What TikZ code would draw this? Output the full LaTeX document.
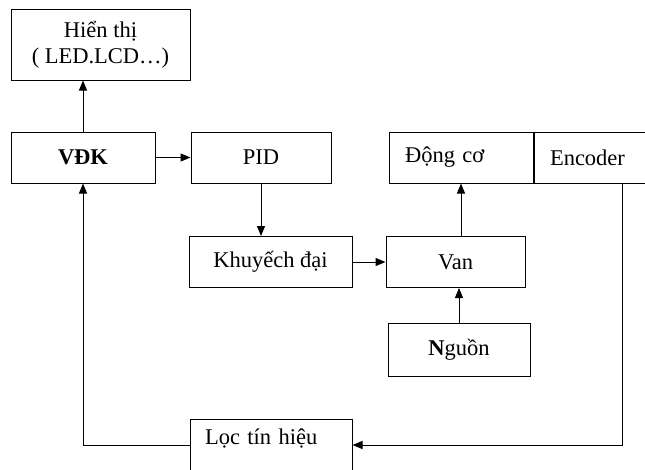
\documentclass[tikz,border=0pt]{standalone}
\usepackage{fontspec}
\setmainfont{Liberation Serif}
\usetikzlibrary{positioning,arrows.meta}

\begin{document}
\begin{tikzpicture}[x=1pt,y=-1pt,line width=1pt,
    khoi/.style={draw, line width=1pt, minimum height=51pt, inner sep=4pt, font=\fontsize{22.5}{26}\selectfont},
    >={Triangle[length=10pt,width=8pt]}]
  \useasboundingbox (0,0) rectangle (645,469);
  \node[khoi, minimum width=179pt, minimum height=71pt, align=center] (hienthi) at (100.5,44.5) {Hiển thị\\( LED.LCD…)};
  \node[khoi, minimum width=144pt] (vdk) at (83,157.5) {\textbf{VĐK}};
  \node[khoi, minimum width=140pt, right=35pt of vdk] (pid) {PID};
  \node[khoi, minimum width=163pt] (khuyech) at (270.5,262) {Khuyếch đại};
  \node[khoi, text width=112pt, inner xsep=16pt, right=57pt of pid] (dongco) {Động cơ};
  \node[khoi, text width=134pt, inner xsep=16pt, right=0pt of dongco] (encoder) {Encoder};
  \node[khoi, minimum width=139pt] (van) at (455.5,262) {Van};
  \node[khoi, minimum width=142pt, minimum height=53pt] (nguon) at (459,349.5) {\textbf{N}guồn};
  \node[khoi, text width=132pt, inner xsep=15pt, text height=20pt, text depth=22pt] (loc) at (271,445) {Lọc tín hiệu};
  \draw[line width=2pt] (encoder.north west) -- (encoder.south west);

  \draw[->] (vdk) -- (vdk |- hienthi.south);
  \draw[->] (vdk) -- (pid);
  \draw[->] (pid) -- (pid |- khuyech.north);
  \draw[->] (khuyech) -- (van);
  \draw[->] (dongco |- van.north) -- (dongco);
  \draw[->] (nguon) -- (nguon |- van.south);
  \coordinate (encra) at ([xshift=89pt]encoder.south west);
  \draw[->] (encra) |- (loc);
  \draw[->] (loc) -| (vdk);
\end{tikzpicture}
\end{document}
